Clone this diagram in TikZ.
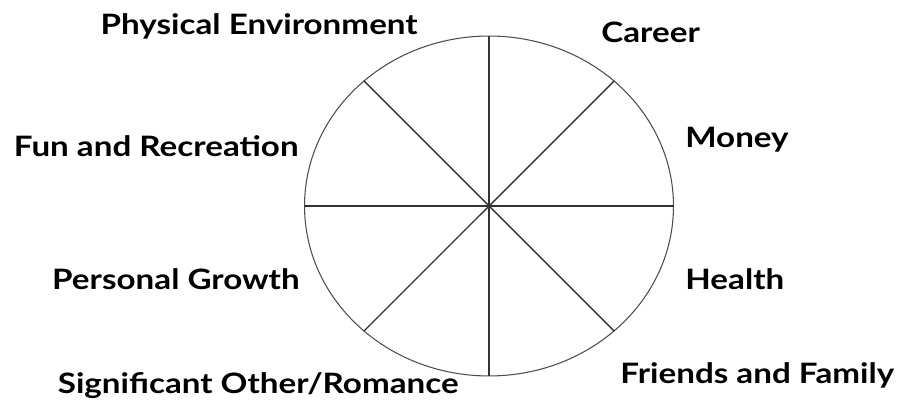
\documentclass[tikz,border=0pt]{standalone}
\usepackage{fontspec}
\setmainfont{Lato}[FakeStretch=1.18]
\usetikzlibrary{shapes.geometric}
\begin{document}
\begin{tikzpicture}[x=0.02cm,y=-0.02cm,
  area/.style={font=\fontsize{16}{19}\selectfont\bfseries,inner sep=0pt},
  spoke/.style={draw=black!80,line width=0.8pt}
]
  \useasboundingbox (0,0) rectangle (898,401);
  % Wheel
  \node[ellipse,draw=black!70,line width=0.6pt,minimum width=7.38cm,minimum height=6.8cm,
    inner sep=0pt] (wheel) at (489,206) {};
  \coordinate (hub) at (wheel.center);
  \foreach \a in {0,45,...,315}
    \draw[spoke] (hub) -- (wheel.\a);
  % Left labels
  \node[area,anchor=base east] (physenv) at (418,35) {Physical Environment};
  \node[area,anchor=base east] (fun) at (299,157) {Fun and Recreation};
  \node[area,anchor=base east] (growth) at (300,290) {Personal Growth};
  \node[area,anchor=base east] (romance) at (459,393) {Significant Other/Romance};
  % Right labels
  \node[area,anchor=base west] (career) at (601,43) {Career};
  \node[area,anchor=base west] (money) at (685,148) {Money};
  \node[area,anchor=base west] (health) at (685,290) {Health};
  \node[area,anchor=base west] (friends) at (620,383) {Friends and Family};
\end{tikzpicture}
\end{document}
